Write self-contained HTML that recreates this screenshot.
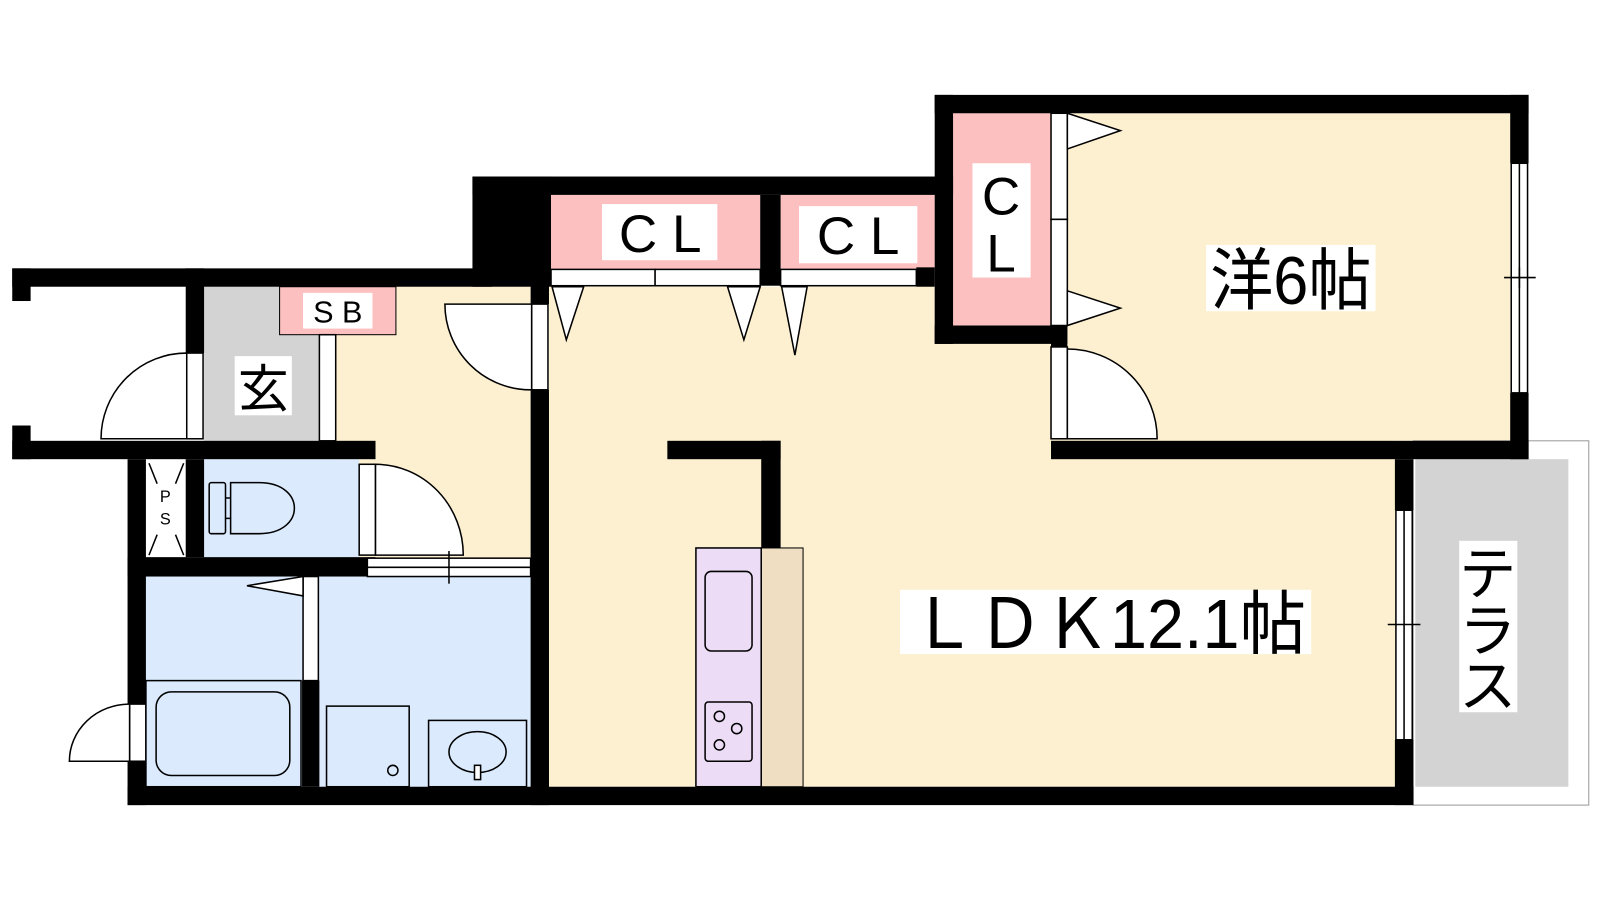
<!DOCTYPE html>
<html><head><meta charset="utf-8"><style>
html,body{margin:0;padding:0;background:#fff;width:1600px;height:900px;overflow:hidden}
svg{display:block}
text{font-family:"Liberation Sans","Noto Sans CJK JP",sans-serif;fill:#000}
</style></head><body>
<svg width="1600" height="900" viewBox="0 0 1568 882" xmlns="http://www.w3.org/2000/svg">
<g stroke="none">
<rect x="200" y="281" width="113" height="151" fill="#d3d3d3"/>
<rect x="329" y="281" width="191" height="267" fill="#fdf0d0"/>
<rect x="538" y="281" width="830" height="490" fill="#fdf0d0"/>
<rect x="1046" y="111" width="434" height="321" fill="#fdf0d0"/>
<rect x="190" y="450" width="162" height="96" fill="#dbeafd"/>
<rect x="143" y="565" width="377" height="206" fill="#dbeafd"/>
<rect x="143" y="450" width="39" height="96" fill="#fff"/>
<rect x="540" y="191" width="205" height="73" fill="#fdc0c0"/>
<rect x="765" y="191" width="151" height="73" fill="#fdc0c0"/>
<rect x="934" y="111" width="96" height="208" fill="#fdc0c0"/>
<rect x="274" y="281" width="114" height="47" fill="#fdc0c0" stroke="#000" stroke-width="1"/>
<rect x="1385" y="432" width="172" height="357" fill="#fff" stroke="#999" stroke-width="1"/>
<rect x="1387" y="450" width="150" height="321" fill="#d3d3d3"/>
</g>
<g fill="#000">
<rect x="12" y="263" width="470" height="18"/>
<rect x="12" y="263" width="18" height="32"/>
<rect x="12" y="417" width="18" height="33"/>
<rect x="12" y="432" width="356" height="18"/>
<rect x="182" y="263" width="18" height="83"/>
<rect x="463" y="173" width="77" height="108"/>
<rect x="463" y="173" width="471" height="18"/>
<rect x="520" y="263" width="18" height="35"/>
<rect x="520" y="382" width="18" height="407"/>
<rect x="745" y="191" width="20" height="89"/>
<rect x="898" y="262" width="18" height="19"/>
<rect x="916" y="93" width="582" height="18"/>
<rect x="916" y="93" width="18" height="244"/>
<rect x="916" y="319" width="130" height="18"/>
<rect x="1030" y="319" width="16" height="21"/>
<rect x="1480" y="93" width="18" height="67"/>
<rect x="1480" y="385" width="18" height="65"/>
<rect x="1030" y="432" width="468" height="18"/>
<rect x="1367" y="450" width="18" height="50"/>
<rect x="1367" y="725" width="18" height="64"/>
<rect x="125" y="771" width="1260" height="18"/>
<rect x="125" y="450" width="18" height="339"/>
<rect x="182" y="450" width="18" height="96"/>
<rect x="125" y="546" width="243" height="19"/>
<rect x="296" y="667" width="17" height="104"/>
<rect x="654" y="432" width="111" height="18"/>
<rect x="746" y="432" width="19" height="123"/>
<rect x="746" y="677" width="19" height="94"/>
</g>
<g fill="#fff" stroke="#000" stroke-width="1.5">
<rect x="183" y="346" width="16" height="84"/>
<path d="M99,430 A84,84 0 0 1 183,346 L183,430 Z"/>
<rect x="313" y="328" width="16" height="104"/>
<rect x="521" y="298" width="16" height="84"/>
<path d="M436,298 L521,298 L521,382 A84,84 0 0 1 436,298 Z"/>
<rect x="352" y="455" width="16" height="89"/>
<path d="M368,455 A86,89 0 0 1 454,544 L368,544 Z"/>
<rect x="360" y="547" width="160" height="9"/>
<rect x="360" y="556" width="160" height="9"/>
<line x1="440" y1="540" x2="440" y2="572"/>
<rect x="297" y="565" width="15" height="102"/>
<path d="M242,574 L297,565 L297,584 Z"/>
<rect x="127" y="690" width="16" height="56"/>
<path d="M68,746 A59,56 0 0 1 127,690 L127,746 Z"/>
<rect x="540" y="264" width="102" height="16"/>
<rect x="642" y="264" width="103" height="16"/>
<rect x="765" y="264" width="133" height="16"/>
<path d="M541,281 L572,281 L555,333 Z"/>
<path d="M713,281 L745,281 L729,333 Z"/>
<path d="M766,281 L791,281 L779,348 Z"/>
<rect x="1030" y="111" width="16" height="104"/>
<rect x="1030" y="215" width="16" height="104"/>
<path d="M1046,111 L1098,128 L1046,146 Z"/>
<path d="M1046,285 L1098,302 L1046,319 Z"/>
<rect x="1030" y="340" width="16" height="90"/>
<path d="M1046,342 A88,88 0 0 1 1134,430 L1046,430 Z"/>
<rect x="1481" y="160" width="16" height="225"/>
<line x1="1489" y1="160" x2="1489" y2="385"/>
<line x1="1474" y1="272" x2="1505" y2="272"/>
<line x1="1489" y1="262" x2="1489" y2="282"/>
<rect x="1368" y="500" width="16" height="225"/>
<line x1="1376" y1="500" x2="1376" y2="725"/>
<line x1="1360" y1="612" x2="1392" y2="612"/>
<path d="M146,454 L154,474 M180,454 L172,474 M146,544 L154,524 M180,544 L172,524" fill="none"/>
</g>
<g fill="none" stroke="#000" stroke-width="1.5">
<rect x="205" y="473" width="16" height="50" rx="2"/>
<path d="M226,473 L226,523 L254,523 C300,523 300,473 254,473 Z"/>
<path d="M221,488 L226,488 M221,508 L226,508"/>
<rect x="143" y="667" width="152" height="104" fill="#dbeafd"/>
<rect x="153" y="678" width="131" height="82" rx="15"/>
<rect x="320" y="692" width="81" height="79"/>
<circle cx="385" cy="755" r="5"/>
<rect x="420" y="706" width="96" height="65"/>
<ellipse cx="468" cy="737" rx="28" ry="20"/>
<rect x="465" y="750" width="6" height="14" fill="#fff"/>
</g>
<rect x="746" y="537" width="41" height="234" fill="#efdec2" stroke="#000" stroke-width="1"/>
<rect x="746" y="555" width="19" height="122" fill="#efdec2"/>
<rect x="682" y="537" width="64" height="234" fill="#ecdcf5" stroke="#000" stroke-width="1.5"/>
<rect x="691" y="560" width="46" height="78" rx="6" fill="none" stroke="#000" stroke-width="1.5"/>
<rect x="691" y="688" width="46" height="58" rx="3" fill="none" stroke="#000" stroke-width="1.5"/>
<g fill="none" stroke="#000" stroke-width="1.5">
<circle cx="705" cy="702" r="5"/><circle cx="722" cy="714" r="5"/><circle cx="705" cy="730" r="5"/>
</g>
<g fill="#fff">
<rect x="297" y="287" width="68" height="35"/>
<rect x="230" y="349" width="56" height="58"/>
<rect x="590" y="200" width="113" height="55"/>
<rect x="783" y="202" width="116" height="56"/>
<rect x="953" y="160" width="57" height="112"/>
<rect x="1182" y="240" width="166" height="65"/>
<rect x="882" y="578" width="403" height="63"/>
<rect x="1430" y="530" width="57" height="168"/>
</g>
<text x="331" y="316" font-size="30" text-anchor="middle">S B</text>
<text x="258" y="399" font-size="50" text-anchor="middle">玄</text>
<text x="647" y="247" font-size="52" text-anchor="middle">C L</text>
<text x="841" y="249" font-size="52" text-anchor="middle">C L</text>
<text x="981" y="210" font-size="52" text-anchor="middle">C</text>
<text x="981" y="266" font-size="52" text-anchor="middle">L</text>
<text x="162" y="492" font-size="16" text-anchor="middle">P</text>
<text x="162" y="514" font-size="16" text-anchor="middle">S</text>
<text x="1186" y="298" font-size="66" textLength="158" lengthAdjust="spacingAndGlyphs">洋6帖</text>
<text x="892" y="635" font-size="68" textLength="388" lengthAdjust="spacingAndGlyphs">ＬＤＫ12.1帖</text>
<text x="1458" y="582" font-size="56" text-anchor="middle">テ</text>
<text x="1458" y="638" font-size="56" text-anchor="middle">ラ</text>
<text x="1458" y="692" font-size="56" text-anchor="middle">ス</text>
</svg>
</body></html>
